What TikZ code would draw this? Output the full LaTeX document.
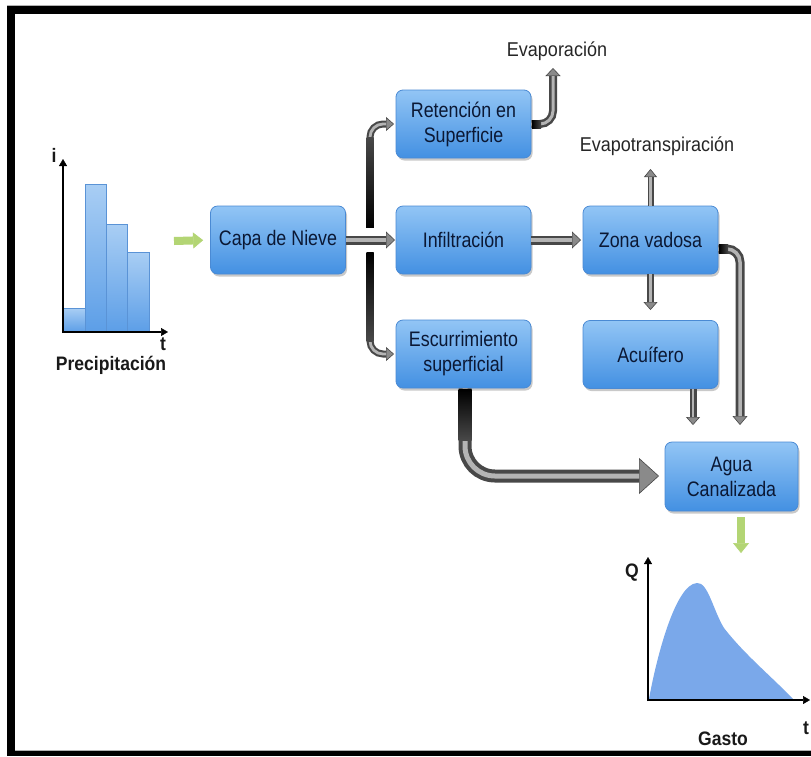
\documentclass[tikz,border=0pt]{standalone}
\usepackage{fontspec}
\setmainfont{Liberation Sans}[FakeStretch=0.85]
\newfontfamily\labelfont{Liberation Sans}[FakeStretch=0.9]
\usetikzlibrary{arrows.meta,shadows}

\definecolor{boxtop}{HTML}{92C5F5}
\definecolor{boxbot}{HTML}{4390E2}
\definecolor{boxedge}{HTML}{4A8AD4}
\definecolor{boxtext}{HTML}{0B1834}
\definecolor{tubeedge}{HTML}{484848}
\definecolor{tubemid}{HTML}{8A8A8A}
\definecolor{tubelight}{HTML}{B4B4B4}
\definecolor{leafgreen}{HTML}{B3D574}
\definecolor{barlight}{HTML}{A9CEF4}
\definecolor{bardark}{HTML}{5C9EE7}
\definecolor{baredge}{HTML}{5A93D6}
\definecolor{flowblue}{HTML}{7AA8EA}

% grey tube connector: [options]{outer width}{inner width}{head width}{head length}{path}
\newcommand\tubearrow[6][]{%
  \draw[line width=#2, draw=tubeedge, rounded corners=13pt,
        -{Triangle[length=#5 0, width=#4 0, line width=0.6pt, fill=tubemid]}, #1] #6;
  \draw[line width=#3, draw=tubelight, rounded corners=13pt, shorten >=#5, #1] #6;
}

\tikzset{
  box/.style={rounded corners=7pt, minimum width=135pt, minimum height=68pt,
    top color=boxtop, bottom color=boxbot, draw=boxedge, line width=0.8pt,
    text=boxtext, align=center, font=\fontsize{21}{25}\selectfont,
    drop shadow={opacity=0.35, shadow xshift=1.5pt, shadow yshift=-2.5pt, fill=black!60}},
  lab/.style={font=\labelfont\fontsize{20}{24}\selectfont, text=black!85, inner sep=0pt},
  axlab/.style={font=\labelfont\bfseries\fontsize{19.5}{23}\selectfont, text=black!90, inner sep=0pt},
  greenarrow/.style={line width=8pt, draw=leafgreen,
    -{Triangle[length=10pt 0, width=16pt 0, line width=0.5pt, fill=leafgreen]}},
  axis/.style={line width=2.2pt, draw=black,
    -{Triangle[length=7pt 0, width=8pt 0, line width=0.5pt]}}
}

\begin{document}
\begin{tikzpicture}[x=1pt,y=-1pt]
\useasboundingbox (0,0) rectangle (811,756);
\fill[white] (0,0) rectangle (811,756);

% frame
\draw[gray!60, line width=0.8pt] (7,5.6) -- (811,5.6);
\fill[black] (7,6) rectangle (811,14);
\fill[black] (7,6) rectangle (15,756);
\draw[gray!60, line width=0.8pt] (15,750.6) -- (811,750.6);
\fill[black] (7,751) rectangle (811,756);

% rainfall histogram
\shade[top color=barlight, bottom color=bardark, draw=baredge, line width=0.4pt] (63,308) rectangle (85,332);
\shade[top color=barlight, bottom color=bardark, draw=baredge, line width=0.4pt] (85,184) rectangle (106,332);
\shade[top color=barlight, bottom color=bardark, draw=baredge, line width=0.4pt] (106,224) rectangle (127,332);
\shade[top color=barlight, bottom color=bardark, draw=baredge, line width=0.4pt] (127,252) rectangle (149,332);
\draw[axis] (63,333) -- (63,159);
\draw[axis] (62,332) -- (168,332);
\node[axlab, anchor=base] (ilab) at (54,162) {i};
\node[axlab, anchor=base] (tlab1) at (163,350) {t};
\node[axlab, anchor=base] (plab) at (111,370) {Precipitación};
\coordinate (rainout) at (174,241);

% process boxes
\node[box] (capa) at (278,240) {Capa de Nieve};
\node[box] (ret) at (463.5,124) {Retención en\\Superficie};
\node[box] (inf) at (463.5,240) {Infiltración};
\node[box] (esc) at (463.5,354) {Escurrimiento\\superficial};
\node[box] (zona) at (650.5,240) {Zona vadosa};
\node[box] (acu) at (650.5,354.5) {Acuífero};
\node[box, minimum width=133pt, minimum height=69pt] (agua) at (731.5,476.5) {Agua\\Canalizada};

% loss labels
\node[lab, anchor=base] (evap) at (557,56) {Evaporación};
\node[lab, anchor=base] (evt) at (657,151) {Evapotranspiración};

% connector end points
\coordinate (split) at (370,240);
\coordinate (retin) at (394,124);
\coordinate (escin) at (394,354);
\coordinate (infin) at (395,240);
\coordinate (zonain) at (581,240);
\coordinate (evapend) at (553,68);
\coordinate (evtend) at (650.5,169);
\coordinate (acuin) at (650.5,310);
\coordinate (aguain1) at (740,425);
\coordinate (aguain2) at (693,425);
\coordinate (escend) at (659,476);
\coordinate (gastoin) at (741,553);

% green inflow / outflow arrows
\draw[greenarrow, shorten >=7pt] (rainout) -- (capa.west);
\draw[greenarrow] ([xshift=9.5pt,yshift=-6pt]agua.south) -- (gastoin);

% branching trunk
\tubearrow{7pt}{2.8pt}{14pt}{8pt}{(split) |- (retin)}
\tubearrow{7pt}{2.8pt}{14pt}{8pt}{(split) |- (escin)}
\shade[top color=tubeedge, bottom color=black] (366.5,137) rectangle (373.5,228);
\shade[top color=black, bottom color=tubeedge] (366.5,252) rectangle (373.5,341);
\fill[white] (364,228) rectangle (376,252);
\tubearrow{9pt}{3.5pt}{17pt}{9pt}{(capa.east) -- (infin)}

% remaining flows
\tubearrow{9pt}{3.5pt}{17pt}{9pt}{(inf.east) -- (zonain)}
\tubearrow{8pt}{3pt}{15pt}{8pt}{(ret.east) -| (evapend)}
\shade[left color=black, right color=tubeedge] (532,120) rectangle (541,128);
\tubearrow{6pt}{2.4pt}{13pt}{8pt}{(zona.north) -- (evtend)}
\tubearrow{7pt}{2.8pt}{14pt}{8pt}{(zona.south) -- (acuin)}
\tubearrow{9pt}{3.5pt}{15pt}{9pt}{([yshift=-9pt]zona.east) -| (aguain1)}
\shade[left color=black, right color=tubeedge] (719,244.5) rectangle (728,253.5);
\tubearrow{7pt}{2.8pt}{14pt}{8pt}{([xshift=42.5pt]acu.south) -- (aguain2)}
\tubearrow[rounded corners=30pt]{13pt}{5pt}{36pt}{20pt}{([xshift=1.5pt]esc.south) |- (escend)}
\shade[top color=black, bottom color=tubeedge] (458.5,389.5) rectangle (471.5,440);

% discharge hydrograph
\fill[flowblue] (649,699) .. controls (656,660) and (675,584) .. (697,583)
  .. controls (708,582) and (713,610) .. (724,628)
  .. controls (745,655) and (770,675) .. (793,699) -- cycle;
\draw[axis] (648,701) -- (648,557);
\draw[axis] (647,700) -- (810,700);
\node[axlab, anchor=base] (qlab) at (632,577) {Q};
\node[axlab, anchor=base] (tlab2) at (806,734) {t};
\node[axlab, anchor=base] (gasto) at (723,745) {Gasto};
\end{tikzpicture}
\end{document}
